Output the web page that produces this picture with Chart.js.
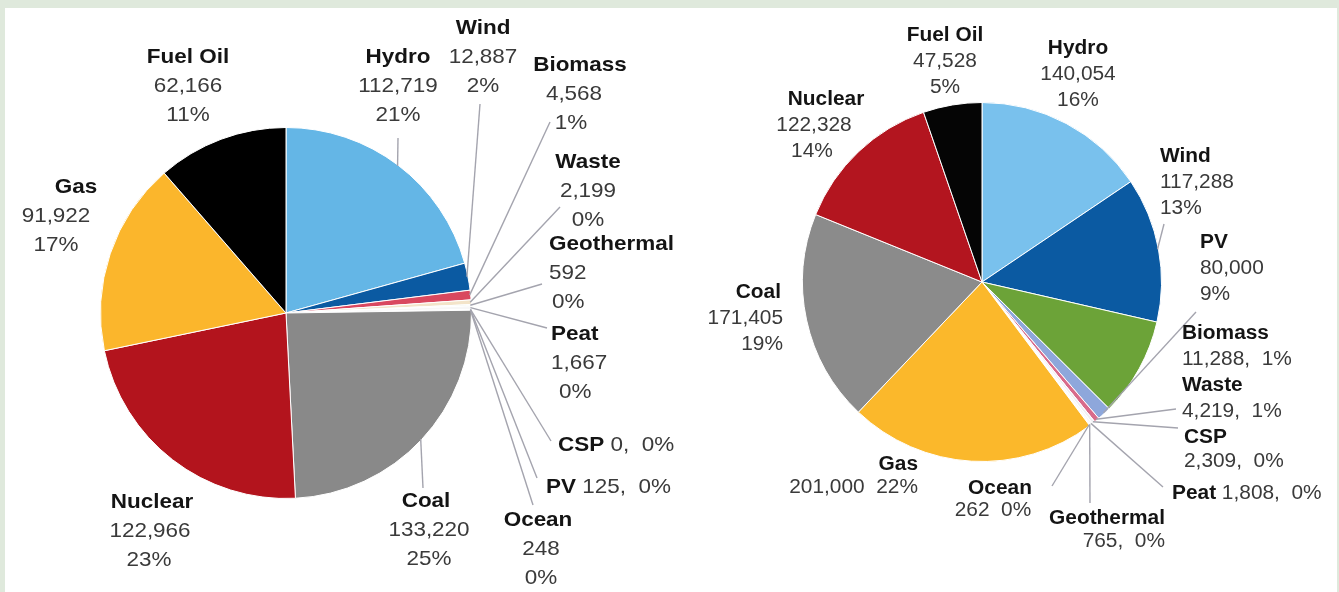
<!DOCTYPE html>
<html>
<head>
<meta charset="utf-8">
<script src="https://cdn.jsdelivr.net/npm/chart.js@4.4.1/dist/chart.umd.min.js"></script>
<style>
  html, body { margin: 0; padding: 0; width: 1339px; height: 592px; overflow: hidden; background: #dfe9dc; }
  #panel { position: absolute; left: 5px; top: 8px; width: 1332px; height: 584px; background: #fff; }
  canvas { position: absolute; top: 0; }
  #leftChart { left: 0; }
  #rightChart { left: 680px; }
</style>
</head>
<body>
<div id="panel"></div>
<canvas id="leftChart" width="680" height="592"></canvas>
<canvas id="rightChart" width="659" height="592"></canvas>
<script>
// left pie
const leftCategories = ['Hydro', 'Wind', 'Biomass', 'Waste', 'Geothermal', 'Peat', 'CSP', 'PV', 'Ocean', 'Coal', 'Nuclear', 'Gas', 'Fuel Oil'];
const leftValues = [112719, 12887, 4568, 2199, 592, 1667, 0, 125, 248, 133220, 122966, 91922, 62166];
const leftPercents = ['21%', '2%', '1%', '0%', '0%', '0%', '0%', '0%', '0%', '25%', '23%', '17%', '11%'];

// right pie
const rightCategories = ['Hydro', 'Wind', 'PV', 'Biomass', 'Waste', 'CSP', 'Peat', 'Geothermal', 'Ocean', 'Gas', 'Coal', 'Nuclear', 'Fuel Oil'];
const rightValues = [140054, 117288, 80000, 11288, 4219, 2309, 1808, 765, 262, 201000, 171405, 122328, 47528];
const rightPercents = ['16%', '13%', '9%', '1%', '1%', '0%', '0%', '0%', '0%', '22%', '19%', '14%', '5%'];

const sliceColors = {
  'Hydro': '#64b6e6', 'Wind': '#0b5aa2', 'Biomass': '#d9485f', 'Waste': '#f3e4c9',
  'Geothermal': '#edf2e4', 'Peat': '#f7f7f7', 'CSP': '#ffffff', 'PV': '#eef3fa',
  'Ocean': '#e4ecf7', 'Coal': '#898989', 'Nuclear': '#b3141d', 'Gas': '#fbb62c', 'Fuel Oil': '#000000'
};
const rightColors = {
  'Hydro': '#79c1ed', 'Wind': '#0b5aa2', 'PV': '#6ca338', 'Biomass': '#8ea7db', 'Waste': '#d86b8b',
  'CSP': '#efeff4', 'Peat': '#f8f8f8', 'Geothermal': '#eeeeee', 'Ocean': '#dfe7f4',
  'Gas': '#fbb82b', 'Coal': '#8b8b8b', 'Nuclear': '#b3151f', 'Fuel Oil': '#050505'
};

// label placement: x/y of first line, align, form, line offsets, leader end
const leftLayout = {
  'Hydro':      { x: 398, y: 57, align: 'center', form: 'stack3', end: [398, 138] },
  'Wind':       { x: 483, y: 28, align: 'center', form: 'stack3', end: [480, 104] },
  'Biomass':    { x: 575, y: 65, align: 'center', form: 'stack3', dx: [5, -1, -4], end: [550, 122] },
  'Waste':      { x: 588, y: 162, align: 'center', form: 'stack3', end: [560, 207] },
  'Geothermal': { x: 549, y: 244, align: 'left', form: 'stack3', dx: [0, 0, 3], end: [542, 284] },
  'Peat':       { x: 551, y: 334, align: 'left', form: 'stack3', dx: [0, 0, 8], end: [547, 328] },
  'CSP':        { x: 558, y: 445, align: 'left', form: 'inline', end: [551, 441] },
  'PV':         { x: 546, y: 487, align: 'left', form: 'inline', end: [537, 478] },
  'Ocean':      { x: 540, y: 520, align: 'center', form: 'stack3', dx: [-2, 1, 1], end: [533, 505] },
  'Coal':       { x: 429, y: 501, align: 'center', form: 'stack3', dx: [-3, 0, 0], end: [423, 488] },
  'Nuclear':    { x: 151, y: 502, align: 'center', form: 'stack3', dx: [1, -1, -2] },
  'Gas':        { x: 56, y: 187, align: 'center', form: 'stack3', dx: [20, 0, 0] },
  'Fuel Oil':   { x: 188, y: 57, align: 'center', form: 'stack3' }
};
const rightLayout = {
  'Hydro':      { x: 1078, y: 49, align: 'center', form: 'stack3' },
  'Wind':       { x: 1160, y: 157, align: 'left', form: 'stack3', end: [1164, 224] },
  'PV':         { x: 1200, y: 243, align: 'left', form: 'stack3' },
  'Biomass':    { x: 1182, y: 334, align: 'left', form: 'stack2', end: [1196, 312] },
  'Waste':      { x: 1182, y: 386, align: 'left', form: 'stack2', end: [1176, 409] },
  'CSP':        { x: 1184, y: 438, align: 'left', form: 'stack2', lh: 24, end: [1178, 428] },
  'Peat':       { x: 1172, y: 494, align: 'left', form: 'inline', end: [1163, 487] },
  'Geothermal': { x: 1165, y: 519, align: 'right', form: 'stack2', lh: 23, end: [1090, 503] },
  'Ocean':      { x: 996, y: 489, align: 'center', form: 'stack2', sep: '  ', lh: 22, dx: [4, -3], end: [1052, 486] },
  'Gas':        { x: 918, y: 465, align: 'right', form: 'stack2', sep: '  ', lh: 23 },
  'Coal':       { x: 783, y: 293, align: 'right', form: 'stack3', dx: [-2, 0, 0] },
  'Nuclear':    { x: 817, y: 100, align: 'center', form: 'stack3', dx: [9, -3, -5] },
  'Fuel Oil':   { x: 945, y: 36, align: 'center', form: 'stack3' }
};

const fmt = v => v.toLocaleString('en-US');

function drawSegments(ctx, segs, x, y, align, size, stretch) {
  let total = 0;
  segs.forEach(s => {
    ctx.font = (s.bold ? 'bold ' : '') + size + 'px "Liberation Sans", Arial, sans-serif';
    s.w = ctx.measureText(s.text).width * stretch;
    total += s.w;
  });
  let x0 = x;
  if (align === 'center') x0 = x - total / 2;
  if (align === 'right') x0 = x - total;
  segs.forEach(s => {
    ctx.save();
    ctx.font = (s.bold ? 'bold ' : '') + size + 'px "Liberation Sans", Arial, sans-serif';
    ctx.fillStyle = s.bold ? '#141414' : '#3a3a3a';
    ctx.textAlign = 'left';
    ctx.textBaseline = 'middle';
    ctx.translate(x0, y);
    ctx.scale(stretch, 1);
    ctx.fillText(s.text, 0, 0);
    ctx.restore();
    x0 += s.w;
  });
}

const calloutPlugin = {
  id: 'callouts',
  afterDraw(chart, args, opts) {
    const ctx = chart.ctx;
    const left = chart.canvas.offsetLeft;
    const meta = chart.getDatasetMeta(0);
    const labels = chart.data.labels;
    const values = chart.data.datasets[0].data;
    ctx.save();
    ctx.translate(-left, 0);
    // leader lines
    labels.forEach((name, i) => {
      const lay = opts.layout[name];
      if (!lay || !lay.end) return;
      const arc = meta.data[i];
      const p = arc.getProps(['x', 'y', 'startAngle', 'endAngle', 'outerRadius'], true);
      const mid = (p.startAngle + p.endAngle) / 2;
      ctx.beginPath();
      ctx.moveTo(p.x + left + Math.cos(mid) * (p.outerRadius - 1), p.y + Math.sin(mid) * (p.outerRadius - 1));
      ctx.lineTo(lay.end[0], lay.end[1]);
      ctx.strokeStyle = '#a4a4ae';
      ctx.lineWidth = 1.4;
      ctx.stroke();
    });
    // texts
    labels.forEach((name, i) => {
      const lay = opts.layout[name];
      if (!lay) return;
      const val = fmt(values[i]);
      const pct = opts.percents[i];
      const sep = lay.sep || ',  ';
      let lines;
      if (lay.form === 'stack3') {
        lines = [[{ text: name, bold: true }], [{ text: val }], [{ text: pct }]];
      } else if (lay.form === 'stack2') {
        lines = [[{ text: name, bold: true }], [{ text: val + sep + pct }]];
      } else {
        lines = [[{ text: name, bold: true }, { text: ' ' + val + sep + pct }]];
      }
      const lh = lay.lh || opts.lineHeight;
      lines.forEach((segs, k) => {
        const dx = lay.dx ? lay.dx[k] || 0 : 0;
        drawSegments(ctx, segs, lay.x + dx, lay.y + k * lh, lay.align, opts.fontSize, opts.stretch);
      });
    });
    ctx.restore();
  }
};

function makePie(id, categories, values, colors, padding, plugOpts) {
  return new Chart(document.getElementById(id), {
    type: 'pie',
    data: {
      labels: categories,
      datasets: [{
        data: values,
        backgroundColor: categories.map(c => colors[c]),
        borderColor: '#ffffff',
        borderWidth: 1
      }]
    },
    options: {
      responsive: false,
      animation: false,
      layout: { padding: padding },
      plugins: {
        legend: { display: false },
        tooltip: { enabled: false },
        callouts: plugOpts
      }
    },
    plugins: [calloutPlugin]
  });
}

makePie('leftChart', leftCategories, leftValues, sliceColors,
  { left: 100, right: 208, top: 127, bottom: 93 },
  { layout: leftLayout, percents: leftPercents, fontSize: 21, lineHeight: 29, stretch: 1.07 });

makePie('rightChart', rightCategories, rightValues, rightColors,
  { left: 122, right: 177, top: 102, bottom: 130 },
  { layout: rightLayout, percents: rightPercents, fontSize: 19.5, lineHeight: 26, stretch: 1.07 });
</script>
</body>
</html>
